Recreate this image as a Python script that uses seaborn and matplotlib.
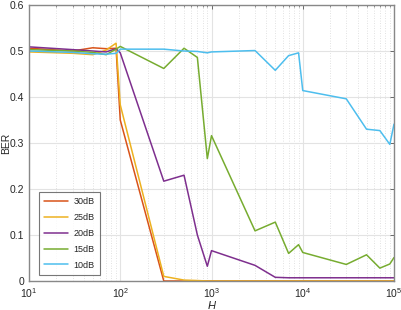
import numpy as np
import pandas as pd
import matplotlib
matplotlib.use("Agg")
import matplotlib.pyplot as plt
import seaborn as sns
from matplotlib.ticker import LogLocator, FixedLocator, NullFormatter

H = [10, 30, 50, 70, 90, 100, 300, 500, 700, 900, 1000, 3000, 5000, 7000, 9000,
     10000, 30000, 50000, 70000, 90000, 100000]
labels = ["30dB", "25dB", "20dB", "15dB", "10dB"]
ber_30 = [0.506, 0.500, 0.507, 0.505, 0.506, 0.350, 0.0, 0.0, 0.0, 0.0, 0.0, 0.0, 0.0, 0.0, 0.0,
          0.0, 0.0, 0.0, 0.0, 0.0, 0.0]
ber_25 = [0.498, 0.495, 0.492, 0.502, 0.517, 0.383, 0.010, 0.002, 0.001, 0.0, 0.0, 0.0, 0.0, 0.0, 0.0,
          0.0, 0.0, 0.0, 0.0, 0.0, 0.0]
ber_20 = [0.509, 0.503, 0.500, 0.498, 0.505, 0.496, 0.217, 0.230, 0.100, 0.032, 0.066, 0.034, 0.008,
          0.007, 0.007, 0.007, 0.007, 0.007, 0.007, 0.007, 0.007]
ber_15 = [0.503, 0.500, 0.497, 0.492, 0.504, 0.510, 0.462, 0.506, 0.486, 0.266, 0.316, 0.109, 0.128,
          0.060, 0.079, 0.062, 0.036, 0.057, 0.028, 0.037, 0.051]
ber_10 = [0.500, 0.497, 0.494, 0.493, 0.495, 0.504, 0.504, 0.500, 0.499, 0.496, 0.498, 0.501, 0.458,
          0.490, 0.496, 0.414, 0.396, 0.330, 0.327, 0.297, 0.341]
series = [ber_30, ber_25, ber_20, ber_15, ber_10]
colors = ["#D95319", "#EDB120", "#7E2F8E", "#77AC30", "#4DBEEE"]

df = pd.DataFrame({
    "H": H * len(labels),
    "BER": sum(series, []),
    "SNR": sum([[l] * len(H) for l in labels], []),
})

sns.set_style("white")
plt.rcParams["font.family"] = ["Liberation Sans", "DejaVu Sans"]
plt.rcParams["mathtext.fontset"] = "custom"
plt.rcParams["mathtext.rm"] = "Liberation Sans"
plt.rcParams["mathtext.it"] = "Liberation Sans:italic"

fig = plt.figure(figsize=(4.02, 3.10), dpi=100)
ax = fig.add_axes([29 / 402, 1 - 281 / 310, 365 / 402, 276 / 310])
sns.lineplot(data=df, x="H", y="BER", hue="SNR", palette=colors, hue_order=labels,
             linewidth=1.1, ax=ax, sort=False, estimator=None)
ax.set_xscale("log")
ax.set_xlim(10, 1e5)
ax.set_ylim(0, 0.6)
ax.set_yticks([0, 0.1, 0.2, 0.3, 0.4, 0.5, 0.6])
ax.set_yticklabels(["0", "0.1", "0.2", "0.3", "0.4", "0.5", "0.6"])
ax.xaxis.set_major_locator(FixedLocator([1e1, 1e2, 1e3, 1e4, 1e5]))
ax.set_xticklabels([r"$10^{1}$", r"$10^{2}$", r"$10^{3}$", r"$10^{4}$", r"$10^{5}$"])
ax.xaxis.set_minor_locator(LogLocator(base=10, subs=np.arange(2, 10)))
ax.xaxis.set_minor_formatter(NullFormatter())

ax.grid(True, which="major", color="#e3e3e3", linewidth=0.8, linestyle="-")
ax.grid(True, which="minor", axis="x", color="#d8d8d8", linewidth=0.6, linestyle=(0, (1, 2)))
ax.set_axisbelow(True)

ax.tick_params(which="both", direction="in", top=True, right=True, colors="#555555",
               labelcolor="#262626", labelsize=7.5)
ax.tick_params(which="major", length=3, width=0.6)
ax.tick_params(which="minor", length=1.5, width=0.5)
for s in ax.spines.values():
    s.set_color("#888888")
    s.set_linewidth(1.0)

ax.set_xlabel("H", fontsize=8, style="italic", color="#262626", labelpad=1)
ax.set_ylabel("BER", fontsize=7.5, color="#262626")
ax.yaxis.set_label_coords(-0.049, 0.5)

leg = ax.legend(loc="lower left", bbox_to_anchor=(0.027, 0.022), borderaxespad=0,
                fontsize=6.5, frameon=True, fancybox=False, handlelength=2.6,
                labelspacing=0.75, borderpad=0.6, handletextpad=0.6)
leg.get_frame().set_edgecolor("#555555")
leg.get_frame().set_linewidth(0.8)
for t in leg.get_texts():
    t.set_color("#262626")

fig.savefig("out.png", dpi=100)
